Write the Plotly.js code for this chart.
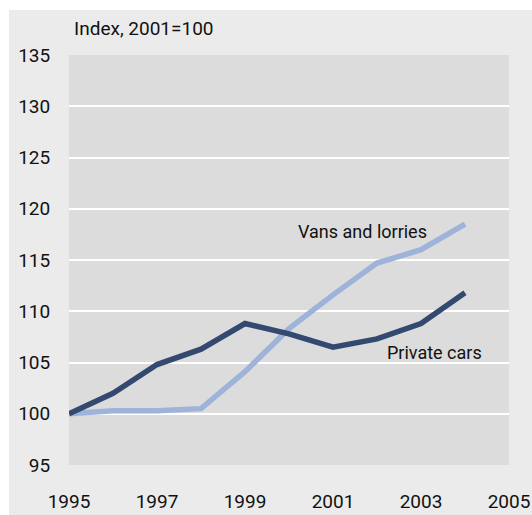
<!DOCTYPE html>
<html>
<head>
<meta charset="utf-8">
<script src="https://cdn.plot.ly/plotly-3.0.1.min.js"></script>
<style>
html,body{margin:0;padding:0;background:#ffffff;}
#chart{position:absolute;left:9px;top:10px;width:523px;height:505px;}
</style>
</head>
<body>
<div id="chart"></div>
<script>
var years = [1995, 1996, 1997, 1998, 1999, 2000, 2001, 2002, 2003, 2004];
var privateCars = [100, 102.0, 104.8, 106.3, 108.8, 107.8, 106.5, 107.3, 108.8, 111.8];
var vansLorries = [100, 100.3, 100.3, 100.5, 104.1, 108.3, 111.6, 114.7, 116.0, 118.5];
var xTicks = [1995, 1997, 1999, 2001, 2003, 2005];
var yTicks = [95, 100, 105, 110, 115, 120, 125, 130, 135];
var seriesNames = ['Private cars', 'Vans and lorries'];
var yTitle = 'Index, 2001=100';

var FONT = 'Roboto, "Liberation Sans", sans-serif';

var traces = [
  {x: years, y: vansLorries, name: seriesNames[1], type: 'scatter', mode: 'lines',
   line: {color: '#9eb3d9', width: 5.5}},
  {x: years, y: privateCars, name: seriesNames[0], type: 'scatter', mode: 'lines',
   line: {color: '#34496f', width: 5.5}}
];

var layout = {
  width: 523, height: 505,
  margin: {l: 60, r: 23, t: 45, b: 50, pad: 0},
  paper_bgcolor: '#ebebeb',
  plot_bgcolor: '#dcdcdc',
  showlegend: false,
  font: {family: FONT, size: 19, color: '#111111'},
  xaxis: {
    range: [1995, 2005], tickvals: xTicks, ticktext: xTicks.map(String),
    showgrid: false, zeroline: false, showline: false,
    ticks: 'outside', ticklen: 19, tickcolor: 'rgba(0,0,0,0)',
    ticklabeloverflow: 'allow',
    tickfont: {family: FONT, size: 19, color: '#111111'}
  },
  yaxis: {
    range: [95, 135], tickvals: yTicks, ticktext: yTicks.map(String),
    showgrid: true, gridcolor: '#ffffff', gridwidth: 2,
    zeroline: false, showline: false,
    ticks: 'outside', ticklen: 14, tickcolor: 'rgba(0,0,0,0)',
    tickfont: {family: FONT, size: 19, color: '#111111'}
  },
  annotations: [
    {text: yTitle, xref: 'paper', yref: 'paper', x: 0, y: 1, xanchor: 'left', yanchor: 'middle',
     xshift: 3, yshift: 27, showarrow: false, font: {family: FONT, size: 19, color: '#111111'}},
    {text: seriesNames[1], xref: 'x', yref: 'y', x: 2001.67, y: 117.76, xanchor: 'center', yanchor: 'middle',
     showarrow: false, font: {family: FONT, size: 18, color: '#111111'}},
    {text: seriesNames[0], xref: 'x', yref: 'y', x: 2003.3, y: 105.96, xanchor: 'center', yanchor: 'middle',
     showarrow: false, font: {family: FONT, size: 18, color: '#111111'}}
  ]
};

Plotly.newPlot('chart', traces, layout, {displayModeBar: false, staticPlot: true});
</script>
</body>
</html>
